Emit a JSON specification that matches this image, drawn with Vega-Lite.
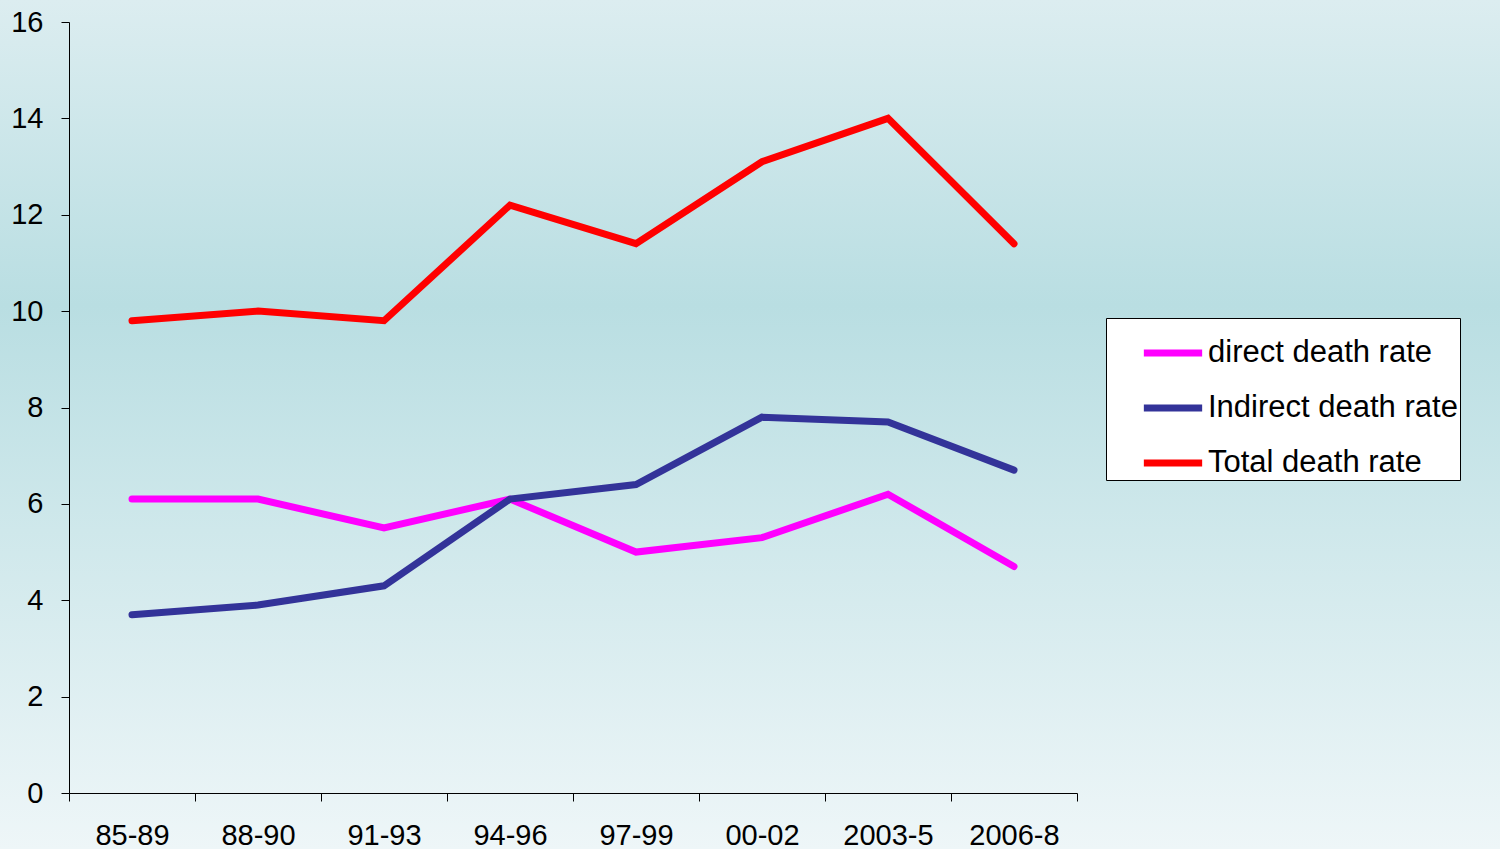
{
  "$schema": "https://vega.github.io/schema/vega-lite/v6.json",
  "width": 1500,
  "height": 849,
  "autosize": {"type": "none"},
  "padding": 0,
  "background": "#d2e9ec",
  "config": {
    "view": {
      "stroke": null,
      "fill": {
        "gradient": "linear",
        "x1": 0, "y1": 0, "x2": 0, "y2": 1,
        "stops": [
          {"offset": 0, "color": "#dcedf0"},
          {"offset": 0.36, "color": "#b9dee2"},
          {"offset": 1, "color": "#eef6f8"}
        ]
      }
    },
    "font": "Liberation Sans"
  },
  "data": {
    "values": [
      {"period": "85-89", "series": "direct death rate", "value": 6.1},
      {"period": "88-90", "series": "direct death rate", "value": 6.1},
      {"period": "91-93", "series": "direct death rate", "value": 5.5},
      {"period": "94-96", "series": "direct death rate", "value": 6.1},
      {"period": "97-99", "series": "direct death rate", "value": 5.0},
      {"period": "00-02", "series": "direct death rate", "value": 5.3},
      {"period": "2003-5", "series": "direct death rate", "value": 6.2},
      {"period": "2006-8", "series": "direct death rate", "value": 4.7},
      {"period": "85-89", "series": "Indirect death rate", "value": 3.7},
      {"period": "88-90", "series": "Indirect death rate", "value": 3.9},
      {"period": "91-93", "series": "Indirect death rate", "value": 4.3},
      {"period": "94-96", "series": "Indirect death rate", "value": 6.1},
      {"period": "97-99", "series": "Indirect death rate", "value": 6.4},
      {"period": "00-02", "series": "Indirect death rate", "value": 7.8},
      {"period": "2003-5", "series": "Indirect death rate", "value": 7.7},
      {"period": "2006-8", "series": "Indirect death rate", "value": 6.7},
      {"period": "85-89", "series": "Total death rate", "value": 9.8},
      {"period": "88-90", "series": "Total death rate", "value": 10.0},
      {"period": "91-93", "series": "Total death rate", "value": 9.8},
      {"period": "94-96", "series": "Total death rate", "value": 12.2},
      {"period": "97-99", "series": "Total death rate", "value": 11.4},
      {"period": "00-02", "series": "Total death rate", "value": 13.1},
      {"period": "2003-5", "series": "Total death rate", "value": 14.0},
      {"period": "2006-8", "series": "Total death rate", "value": 11.4}
    ]
  },
  "mark": {"type": "line", "strokeWidth": 7, "strokeCap": "round"},
  "encoding": {
    "x": {
      "field": "period",
      "type": "nominal",
      "sort": null,
      "scale": {"type": "band", "paddingInner": 0, "paddingOuter": 0, "range": [69, 1077]},
      "axis": {
        "title": null,
        "offset": -56,
        "labelAngle": 0,
        "labelFontSize": 29,
        "labelColor": "#000000",
        "labelPadding": 20,
        "tickBand": "extent",
        "tickSize": 8,
        "tickColor": "#000000",
        "domainColor": "#000000",
        "grid": false
      }
    },
    "y": {
      "field": "value",
      "type": "quantitative",
      "scale": {"domain": [0, 16], "nice": false, "range": [793, 22]},
      "axis": {
        "title": null,
        "offset": -69,
        "values": [0, 2, 4, 6, 8, 10, 12, 14, 16],
        "labelFontSize": 29,
        "labelColor": "#000000",
        "labelPadding": 18,
        "tickSize": 8,
        "tickColor": "#000000",
        "domainColor": "#000000",
        "grid": false
      }
    },
    "color": {
      "field": "series",
      "type": "nominal",
      "scale": {
        "domain": ["direct death rate", "Indirect death rate", "Total death rate"],
        "range": ["#ff00ff", "#333399", "#ff0000"]
      },
      "legend": {
        "title": null,
        "orient": "none",
        "legendX": 1106,
        "legendY": 318,
        "fillColor": "#ffffff",
        "strokeColor": "#000000",
        "padding": 2,
        "symbolOffset": 32,
        "symbolType": "stroke",
        "symbolSize": 3400,
        "symbolStrokeWidth": 7,
        "labelFontSize": 31,
        "labelColor": "#000000",
        "labelOffset": 2,
        "rowPadding": 7,
        "labelLimit": 500
      }
    }
  }
}
